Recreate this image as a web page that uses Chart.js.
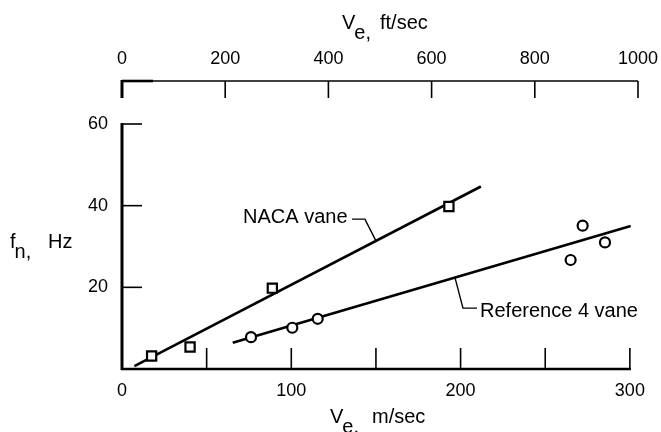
<!DOCTYPE html>
<html><head><meta charset="utf-8">
<script src="https://cdn.jsdelivr.net/npm/chart.js@4.4.1/dist/chart.umd.min.js"></script>
<style>html,body{margin:0;padding:0;background:#fff}canvas{display:block}</style>
</head><body>
<canvas id="c" width="661" height="432"></canvas>
<script>
// Natural frequency of the vanes against exit velocity
const nacaVelocity = [17.5, 40.2, 88.8, 193.1];      // m/sec
const nacaFreq     = [3.2, 5.4, 19.8, 39.8];         // Hz
const refVelocity  = [76.2, 100.6, 115.6, 265.0, 272.1, 285.3];
const refFreq      = [7.8, 10.1, 12.3, 26.7, 35.1, 31.0];
// faired lines through each set
const nacaFitVelocity = [7.3, 212.0];
const nacaFitFreq     = [0.7, 44.7];
const refFitVelocity  = [65.4, 300.5];
const refFitFreq      = [6.4, 35.0];
// axis ticks
const msTicks      = [0, 100, 200, 300];
const msMinorTicks = [50, 100, 150, 200, 250, 300];
const ftTicks      = [0, 200, 400, 600, 800, 1000];
const hzTicks      = [20, 40, 60];
const FT_TO_M = 0.3048;

const pts = (xs, ys) => xs.map((x, i) => ({x, y: ys[i]}));
const tickFont = {family: "'Liberation Sans', Arial, sans-serif", size: 18};
const textFont = "20px 'Liberation Sans', Arial, sans-serif";
const noPad = s => { s.paddingLeft = 0; s.paddingRight = 0; s.paddingTop = 0; s.paddingBottom = 0; };

const axesAndNotes = {
  id: 'axesAndNotes',
  afterDatasetsDraw(chart) {
    const ctx = chart.ctx;
    const x = chart.scales.x, y = chart.scales.y, x2 = chart.scales.x2;
    const y0 = y.getPixelForValue(0);
    ctx.save();
    ctx.strokeStyle = '#000';
    ctx.lineCap = 'butt';
    // bottom axis
    ctx.lineWidth = 2.5;
    ctx.beginPath();
    ctx.moveTo(x.getPixelForValue(0) - 1, y0);
    ctx.lineTo(x.getPixelForValue(300) + 1, y0);
    ctx.stroke();
    ctx.lineWidth = 1.6;
    msMinorTicks.forEach(v => {
      const px = x.getPixelForValue(v);
      ctx.beginPath(); ctx.moveTo(px, y0); ctx.lineTo(px, y0 - 21); ctx.stroke();
    });
    // left axis
    const xl = x.getPixelForValue(0);
    ctx.lineWidth = 3;
    ctx.beginPath();
    ctx.moveTo(xl, y0 + 1);
    ctx.lineTo(xl, y.getPixelForValue(60) - 1);
    ctx.stroke();
    ctx.lineWidth = 1.6;
    hzTicks.forEach(v => {
      const py = y.getPixelForValue(v);
      ctx.beginPath(); ctx.moveTo(xl, py); ctx.lineTo(xl + 20, py); ctx.stroke();
    });
    // top axis (ft/sec)
    const yt = chart.chartArea.top;
    ctx.lineWidth = 1.6;
    ctx.beginPath();
    ctx.moveTo(x2.getPixelForValue(0), yt);
    ctx.lineTo(x2.getPixelForValue(1000), yt);
    ctx.stroke();
    ctx.lineWidth = 2.6;
    ctx.beginPath();
    ctx.moveTo(x2.getPixelForValue(0), yt);
    ctx.lineTo(x2.getPixelForValue(60), yt);
    ctx.stroke();
    ftTicks.forEach(v => {
      const px = x2.getPixelForValue(v);
      ctx.lineWidth = v === 0 ? 3 : 1.6;
      ctx.beginPath(); ctx.moveTo(px, yt - (v === 0 ? 1 : 0)); ctx.lineTo(px, yt + 17); ctx.stroke();
    });

    // axis titles with subscripts
    ctx.fillStyle = '#000';
    ctx.font = textFont;
    ctx.textBaseline = 'alphabetic';
    ctx.textAlign = 'left';
    const subTitle = (main, sub, rest, px, py, restX) => {
      ctx.fillText(main, px, py);
      const w = ctx.measureText(main).width;
      ctx.fillText(sub + ',', px + w - 1, py + 10);
      ctx.fillText(rest, restX, py);
    };
    subTitle('V', 'e', 'ft/sec', 342, 29, 380);
    subTitle('V', 'e', 'm/sec', 330, 423, 372);
    subTitle('f', 'n', 'Hz', 10, 248, 48);

    // curve labels and leaders
    ctx.textBaseline = 'middle';
    ctx.fillText('NACA vane', x.getPixelForValue(71.5), y.getPixelForValue(37.0));
    ctx.fillText('Reference 4 vane', x.getPixelForValue(211.5), y.getPixelForValue(14.0));
    const onLine = (xs, ys, v) => ys[0] + (v - xs[0]) * (ys[1] - ys[0]) / (xs[1] - xs[0]);
    ctx.lineWidth = 1.4;
    ctx.beginPath();
    ctx.moveTo(x.getPixelForValue(135.9), y.getPixelForValue(36.7));
    ctx.lineTo(x.getPixelForValue(143.5), y.getPixelForValue(36.7));
    ctx.lineTo(x.getPixelForValue(150), y.getPixelForValue(onLine(nacaFitVelocity, nacaFitFreq, 150)));
    ctx.stroke();
    ctx.beginPath();
    ctx.moveTo(x.getPixelForValue(196.7), y.getPixelForValue(onLine(refFitVelocity, refFitFreq, 196.7)));
    ctx.lineTo(x.getPixelForValue(201.4), y.getPixelForValue(14.9));
    ctx.lineTo(x.getPixelForValue(209.7), y.getPixelForValue(14.9));
    ctx.stroke();
    ctx.restore();
  }
};

new Chart(document.getElementById('c'), {
  type: 'scatter',
  data: {
    datasets: [
      {label: 'NACA vane', data: pts(nacaVelocity, nacaFreq), pointStyle: 'rect', pointRadius: 6.5,
       borderColor: '#000', backgroundColor: '#fff', borderWidth: 2.2, order: 0},
      {label: 'Reference 4 vane', data: pts(refVelocity, refFreq), pointStyle: 'circle', pointRadius: 5,
       borderColor: '#000', backgroundColor: '#fff', borderWidth: 2.2, order: 1},
      {label: 'NACA fit', data: pts(nacaFitVelocity, nacaFitFreq), showLine: true, pointRadius: 0,
       borderColor: '#000', borderWidth: 2.6, order: 2},
      {label: 'Reference 4 fit', data: pts(refFitVelocity, refFitFreq), showLine: true, pointRadius: 0,
       borderColor: '#000', borderWidth: 2.6, order: 3}
    ]
  },
  options: {
    responsive: false,
    animation: false,
    devicePixelRatio: 1,
    clip: false,
    layout: {padding: {left: 0, right: 23, top: 0, bottom: 0}},
    plugins: {legend: {display: false}, tooltip: {enabled: false}},
    scales: {
      x: {
        type: 'linear', position: 'bottom', min: 0, max: 1000 * FT_TO_M,
        grid: {display: false}, border: {display: false},
        afterBuildTicks: s => { s.ticks = msTicks.map(v => ({value: v})); },
        afterFit: s => { s.height = 63; noPad(s); },
        ticks: {color: '#000', font: tickFont, padding: 3, autoSkip: false, maxRotation: 0,
                callback: v => String(v)}
      },
      x2: {
        type: 'linear', position: 'top', min: 0, max: 1000,
        grid: {display: false}, border: {display: false},
        afterBuildTicks: s => { s.ticks = ftTicks.map(v => ({value: v})); },
        afterFit: s => { s.height = 81; noPad(s); },
        ticks: {color: '#000', font: tickFont, padding: 3, autoSkip: false, maxRotation: 0,
                callback: v => String(v)}
      },
      y: {
        type: 'linear', position: 'left', min: 0, max: 288 / ((369 - 124) / 60),
        grid: {display: false}, border: {display: false},
        afterBuildTicks: s => { s.ticks = hzTicks.map(v => ({value: v})); },
        afterFit: s => { s.width = 122; noPad(s); },
        ticks: {color: '#000', font: tickFont, padding: 6, autoSkip: false,
                callback: v => String(v)}
      }
    }
  },
  plugins: [axesAndNotes]
});
</script>
</body></html>
